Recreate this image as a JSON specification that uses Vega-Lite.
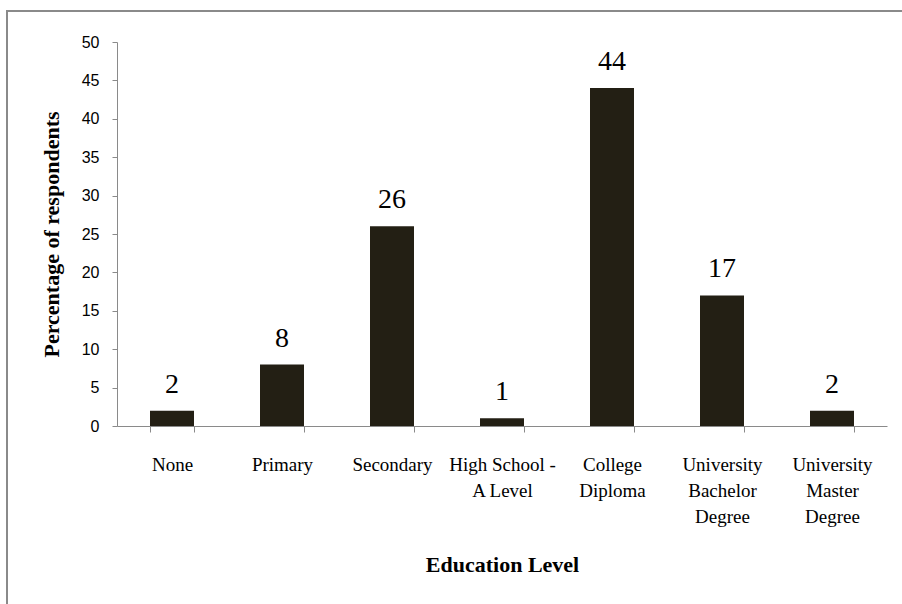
{
  "$schema": "https://vega.github.io/schema/vega-lite/v6.json",
  "autosize": "none",
  "width": 900,
  "height": 600,
  "padding": {"left": 7, "top": 11, "right": -5, "bottom": -7},
  "background": "white",
  "config": {
    "view": {"stroke": "#8a8a8a", "strokeWidth": 2},
    "axis": {"grid": false}
  },
  "data": {
    "values": [
      {"level": "None", "pct": 2},
      {"level": "Primary", "pct": 8},
      {"level": "Secondary", "pct": 26},
      {"level": "High School - A Level", "pct": 1},
      {"level": "College Diploma", "pct": 44},
      {"level": "University Bachelor Degree", "pct": 17},
      {"level": "University Master Degree", "pct": 2}
    ]
  },
  "encoding": {
    "x": {
      "field": "level",
      "type": "nominal",
      "sort": null,
      "scale": {"range": [110, 880], "paddingInner": 0.6, "paddingOuter": 0.3},
      "axis": {
        "title": "Education Level",
        "offset": -185,
        "labelAngle": 0,
        "labelFont": "Liberation Serif",
        "labelFontSize": 19,
        "labelColor": "#000000",
        "labelPadding": 23,
        "labelBaseline": "top",
        "labelLineHeight": 26,
        "labelExpr": "datum.value == 'High School - A Level' ? ['High School -', 'A Level'] : datum.value == 'College Diploma' ? ['College', 'Diploma'] : datum.value == 'University Bachelor Degree' ? ['University', 'Bachelor', 'Degree'] : datum.value == 'University Master Degree' ? ['University', 'Master', 'Degree'] : datum.value",
        "tickBand": "extent",
        "tickSize": 6,
        "tickColor": "#8a8a8a",
        "domainColor": "#8a8a8a",
        "titleFont": "Liberation Serif",
        "titleFontSize": 22,
        "titleFontWeight": "bold",
        "titleColor": "#000000",
        "titleBaseline": "alphabetic",
        "titleY": 145
      }
    },
    "y": {
      "field": "pct",
      "type": "quantitative",
      "scale": {"domain": [0, 50], "range": [415, 31], "nice": false},
      "axis": {
        "title": "Percentage of respondents",
        "offset": -110,
        "values": [0, 5, 10, 15, 20, 25, 30, 35, 40, 45, 50],
        "labelFont": "Liberation Sans",
        "labelFontSize": 16,
        "labelColor": "#000000",
        "labelPadding": 13,
        "tickSize": 5,
        "tickColor": "#8a8a8a",
        "domainColor": "#8a8a8a",
        "titleFont": "Liberation Serif",
        "titleFontSize": 22,
        "titleFontWeight": "bold",
        "titleColor": "#000000",
        "titleAngle": -90,
        "titleBaseline": "middle",
        "titleAlign": "center",
        "titleX": -66,
        "titleY": 223
      }
    }
  },
  "layer": [
    {"mark": {"type": "bar", "color": "#231f14"}},
    {
      "mark": {"type": "text", "font": "Liberation Serif", "fontSize": 28, "baseline": "alphabetic", "dy": -18, "color": "#000000"},
      "encoding": {"text": {"field": "pct", "type": "quantitative"}}
    }
  ]
}
